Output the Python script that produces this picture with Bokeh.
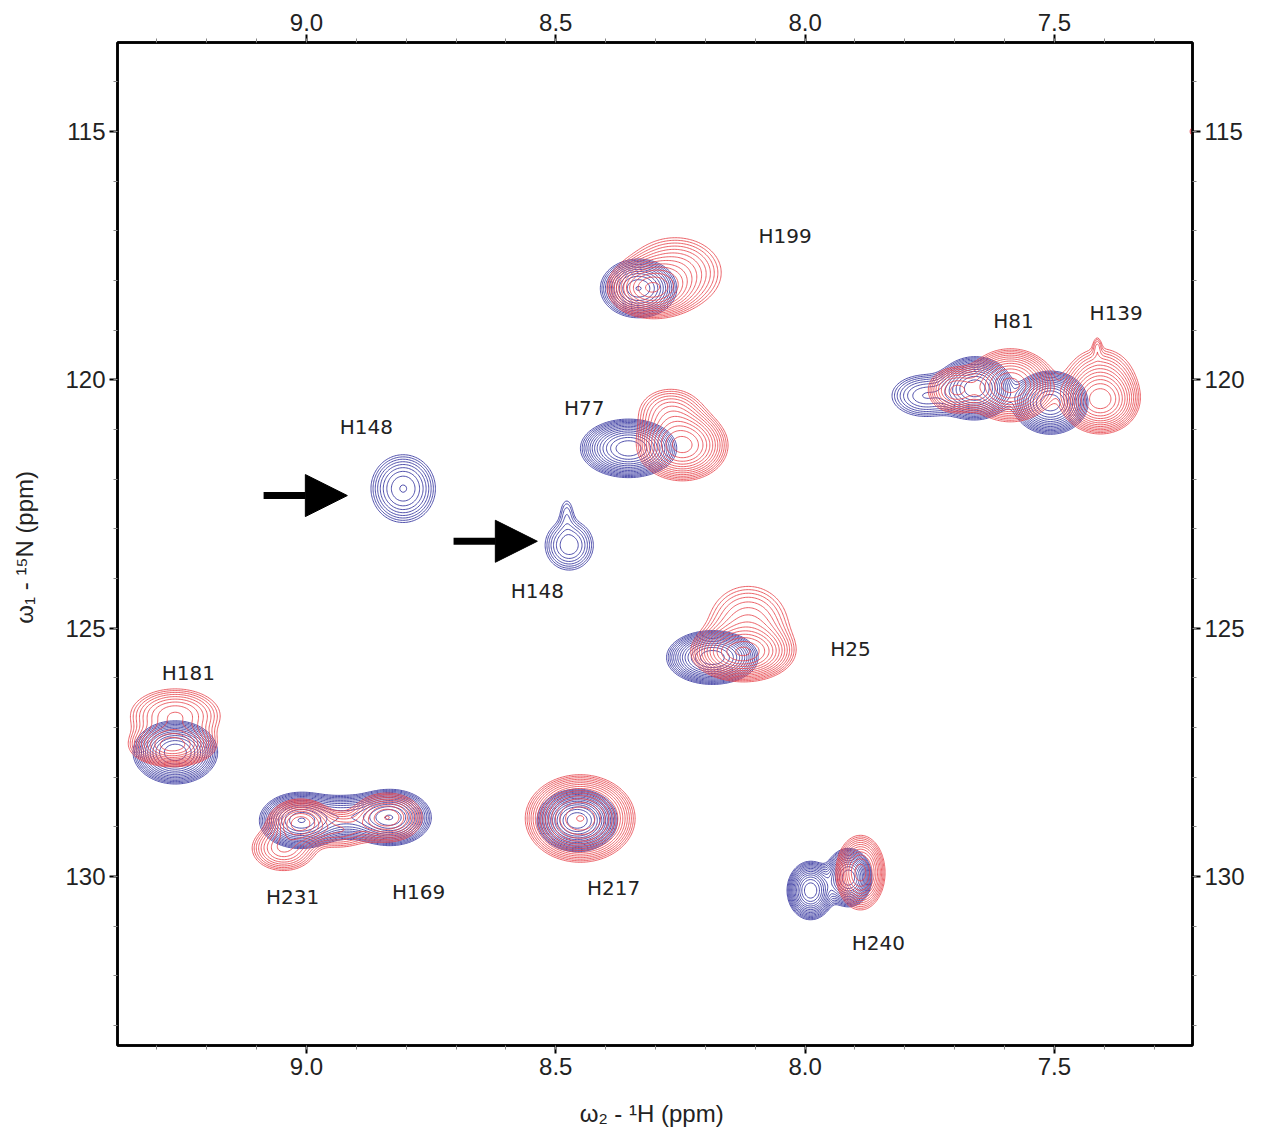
import numpy as np
from bokeh.plotting import figure
from bokeh.models import Range1d, LinearAxis, FixedTicker, NumeralTickFormatter, Arrow, NormalHead, ColumnDataSource
from bokeh.core.properties import value
from bokeh.embed import file_html
from bokeh.resources import INLINE

# Cross-peak table of the blue spectrum: 1H shift, 15N shift, linewidths (ppm), height
blue_h1 = [8.334, 8.354, 8.806, 8.473, 8.478, 8.186, 7.659, 7.508, 7.759, 9.263, 9.012, 8.832, 8.922, 8.457, 7.989, 7.913, 8.116]
blue_n15 = [118.16, 121.38, 122.19, 123.33, 122.65, 125.59, 120.17, 120.46, 120.32, 127.50, 128.87, 128.81, 128.80, 128.87, 130.28, 130.02, 133.55]
blue_lw_h = [0.035, 0.041, 0.036, 0.029, 0.011, 0.039, 0.032, 0.032, 0.040, 0.036, 0.035, 0.035, 0.040, 0.032, 0.020, 0.020, 0.010]
blue_lw_n = [0.27, 0.25, 0.38, 0.30, 0.24, 0.23, 0.27, 0.27, 0.25, 0.27, 0.24, 0.24, 0.22, 0.25, 0.25, 0.25, 0.10]
blue_height = [11, 16, 5, 4, 1.4, 16, 16, 16, 4, 16, 16, 16, 6, 24, 16, 16, 2]

# Cross-peak table of the red spectrum
red_h1 = [8.310, 8.260, 8.246, 8.270, 8.126, 8.114, 7.588, 7.699, 7.408, 7.408, 7.414, 9.269, 9.263, 9.012, 9.046, 8.932, 8.838, 8.451, 7.889, 7.222]
red_n15 = [118.16, 117.84, 121.32, 120.64, 125.49, 124.95, 120.11, 120.21, 120.42, 119.90, 119.32, 127.36, 126.76, 128.91, 129.43, 129.07, 128.81, 128.83, 129.92, 115.00]
red_lw_h = [0.038, 0.055, 0.041, 0.040, 0.045, 0.050, 0.040, 0.030, 0.035, 0.040, 0.006, 0.040, 0.050, 0.030, 0.035, 0.035, 0.037, 0.045, 0.023, 0.006]
red_lw_n = [0.26, 0.42, 0.32, 0.30, 0.25, 0.50, 0.33, 0.25, 0.30, 0.35, 0.15, 0.20, 0.30, 0.22, 0.25, 0.22, 0.26, 0.36, 0.35, 0.08]
red_height = [12, 4, 12, 3, 12, 3.5, 12, 5, 12, 3, 1.25, 10, 5, 10, 5, 3, 6, 20, 10, 1.6]

# Residue assignments
label_text = ["H199", "H81", "H139", "H148", "H77", "H148", "H25", "H181", "H231", "H169", "H217", "H240"]
label_h1 = [8.040, 7.582, 7.376, 8.880, 8.443, 8.537, 7.909, 9.237, 9.028, 8.775, 8.384, 7.853]
label_n15 = [117.11, 118.81, 118.66, 120.94, 120.56, 124.26, 125.41, 125.91, 130.42, 130.32, 130.22, 131.33]

# Arrows pointing at the new H148 peaks
arrow_tip_h1 = [8.918, 8.537]
arrow_tip_n15 = [122.33, 123.25]
arrow_length = 0.168

x_ticks = [9.0, 8.5, 8.0, 7.5]
x_minor = [round(7.3 + 0.1 * i, 1) for i in range(21)]
y_ticks = [115, 120, 125, 130]
y_minor = list(range(113, 134))

contour_base = 1.0
contour_factor = 1.22
n_levels = 18

grid_h = np.linspace(7.15, 9.45, 760)
grid_n = np.linspace(112.0, 134.5, 900)
GH, GN = np.meshgrid(grid_h, grid_n)


def spectrum(h1, n15, lwh, lwn, height):
    z = np.zeros_like(GH)
    for x0, y0, sx, sy, a in zip(h1, n15, lwh, lwn, height):
        z += a * np.exp(-0.5 * ((GH - x0) / sx) ** 2 - 0.5 * ((GN - y0) / sy) ** 2)
    return z


levels = contour_base * contour_factor ** np.arange(n_levels)

p = figure(frame_width=1075, frame_height=1003,
           min_border_left=117, min_border_right=71, min_border_top=42, min_border_bottom=90,
           x_range=Range1d(9.379, 7.223), y_range=Range1d(133.40, 113.21),
           output_backend="svg", toolbar_location=None,
           background_fill_color="white", border_fill_color="white")
p.grid.visible = False
p.outline_line_color = "black"
p.outline_line_width = 2.5

z_blue = spectrum(blue_h1, blue_n15, blue_lw_h, blue_lw_n, blue_height)
z_red = spectrum(red_h1, red_n15, red_lw_h, red_lw_n, red_height)

p.contour(grid_h, grid_n, z_blue, levels, line_color="#33339e", line_width=1, line_alpha=0.85)
p.contour(grid_h, grid_n, z_red, levels, line_color="#e8464e", line_width=1, line_alpha=0.85)

src = ColumnDataSource(dict(x=label_h1, y=label_n15, t=label_text))
p.text(x="x", y="y", text="t", source=src, text_font=value("DejaVu Sans"),
       text_font_size="20px", text_color="#222222", text_align="center", text_baseline="middle")

for tx, ty in zip(arrow_tip_h1, arrow_tip_n15):
    p.add_layout(Arrow(end=NormalHead(size=42, fill_color="black", line_color="black"),
                       x_start=tx + arrow_length, y_start=ty, x_end=tx, y_end=ty,
                       line_width=7, line_color="black"))

p.add_layout(LinearAxis(), "above")
p.add_layout(LinearAxis(), "right")


def style_axis(ax, ticks, minor, fmt):
    ax.ticker = FixedTicker(ticks=ticks, minor_ticks=minor)
    ax.formatter = NumeralTickFormatter(format=fmt)
    ax.axis_line_width = 2.5
    ax.axis_line_color = "black"
    ax.major_tick_out = 8
    ax.major_tick_in = 0
    ax.minor_tick_out = 4
    ax.minor_tick_in = 0
    ax.major_tick_line_width = 2
    ax.minor_tick_line_width = 1
    ax.minor_tick_line_color = "#888888"
    ax.major_label_text_font = "Liberation Sans"
    ax.major_label_text_font_size = "24px"
    ax.major_label_text_color = "#222222"
    ax.major_label_standoff = 4
    ax.axis_label_text_font = "Liberation Sans"
    ax.axis_label_text_font_size = "24px"
    ax.axis_label_text_font_style = "normal"
    ax.axis_label_text_color = "#222222"


for ax in p.xaxis:
    style_axis(ax, x_ticks, x_minor, "0.0")
for ax in p.yaxis:
    style_axis(ax, y_ticks, y_minor, "0")

p.below[0].axis_label = "ω₂ - ¹H  (ppm)"
p.below[0].axis_label_standoff = 22
p.left[0].axis_label = "ω₁ - ¹⁵N  (ppm)"
p.left[0].axis_label_standoff = 24

open("out.html", "w").write(file_html(p, INLINE))
